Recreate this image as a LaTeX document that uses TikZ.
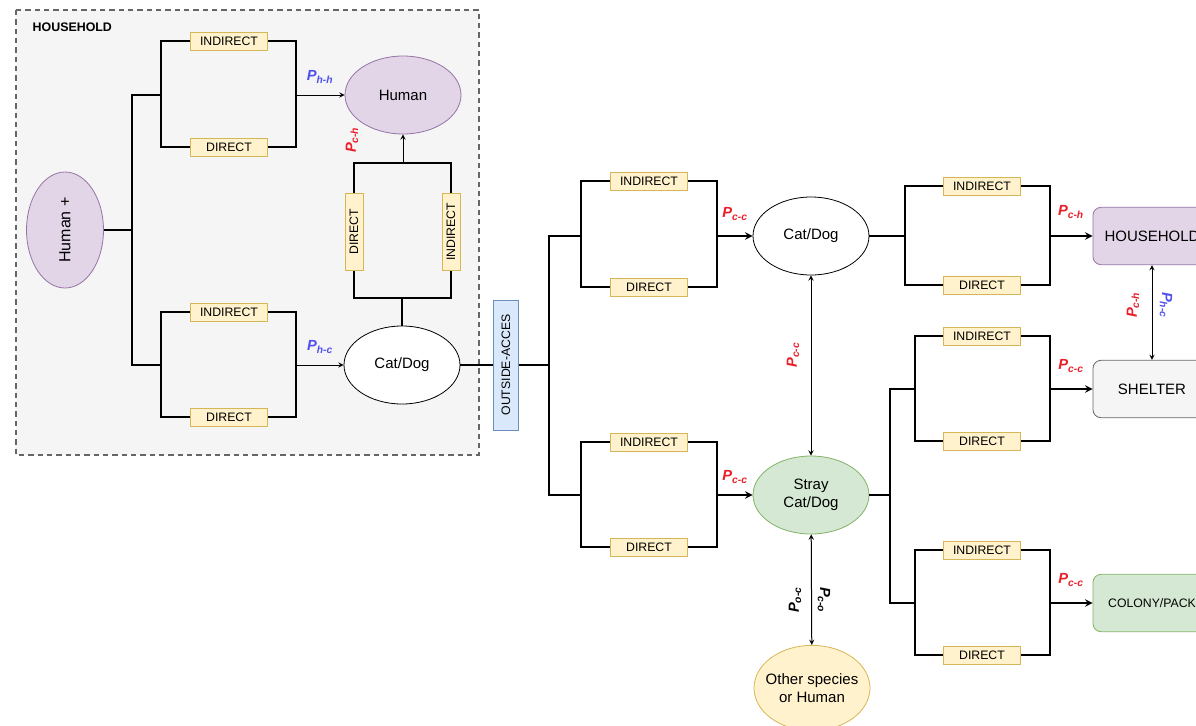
\documentclass[tikz,border=0pt]{standalone}
\usepackage{fontspec}
\setmainfont{Liberation Sans}
\usetikzlibrary{arrows,shapes.geometric}
\definecolor{box_fill}{RGB}{255,242,204}
\definecolor{box_line}{RGB}{214,182,86}
\definecolor{pur_fill}{RGB}{225,213,231}
\definecolor{pur_line}{RGB}{150,115,166}
\definecolor{grn_fill}{RGB}{213,232,212}
\definecolor{grn_line}{RGB}{130,179,102}
\definecolor{blu_fill}{RGB}{218,232,252}
\definecolor{blu_line}{RGB}{108,142,191}
\definecolor{gry_fill}{RGB}{245,245,245}
\definecolor{gry_line}{RGB}{102,102,102}
\definecolor{p_red}{RGB}{235,30,40}
\definecolor{p_blue}{RGB}{80,80,240}
\tikzstyle{yb}=[rectangle,fill=box_fill,draw=box_line,line width=0.6pt,
  minimum width=58pt,minimum height=13.5pt,inner sep=1pt,font=\fontsize{9.2}{10}\selectfont]
\tikzstyle{el}=[ellipse,draw=black,line width=0.6pt,minimum width=87pt,
  minimum height=58.5pt,inner sep=1pt,align=center,font=\fontsize{11.25}{13.5}\selectfont]
\tikzstyle{rb}=[rectangle,rounded corners=6pt,line width=0.6pt,minimum width=88.5pt,
  minimum height=43pt,font=\fontsize{11.25}{13}\selectfont]
\tikzstyle{wire}=[line width=1.5pt]
\tikzstyle{lead}=[line width=0.75pt,-stealth]
\tikzstyle{heavylead}=[line width=1.5pt,-stealth]
\tikzstyle{both}=[line width=0.75pt,stealth-stealth]
\tikzstyle{pk}=[inner sep=1pt,font=\bfseries\itshape\fontsize{11}{12}\selectfont]
\tikzstyle{pr}=[pk,text=p_red]
\tikzstyle{pb}=[pk,text=p_blue]
\tikzstyle{none}=[inner sep=0pt]
\newcommand{\pvar}[1]{P\textsubscript{#1}}

\begin{document}
\begin{tikzpicture}[x=0.75pt,y=-0.75pt]
            \useasboundingbox (0,0) rectangle (1196,725);
            \clip (0,0) rectangle (1196,725);
            \draw [dashed,dash pattern=on 4pt off 3pt,draw=gry_line,fill=gry_fill,line width=0.9pt] (16,10) rectangle (479,455);
            \node [anchor=west,font=\bfseries\fontsize{9.3}{10}\selectfont] (1) at (28,27) {HOUSEHOLD};
            \node [style=el,fill=pur_fill,draw=pur_line,rotate=90,minimum width=87pt,minimum height=57.75pt,font=\fontsize{12}{13}\selectfont] (2) at (65,230) {Human +};
            \node [style=el,fill=pur_fill,draw=pur_line] (3) at (403,95) {Human};
            \node [style=el,fill=white] (4) at (402,365) {Cat/Dog};
            \node [style=yb] (5) at (229,41) {INDIRECT};
            \node [style=yb] (6) at (229,147) {DIRECT};
            \node [style=yb] (7) at (229,312) {INDIRECT};
            \node [style=yb] (8) at (229,417) {DIRECT};
            \node [style=yb,rotate=90] (9) at (354,232) {DIRECT};
            \node [style=yb,rotate=90] (10) at (451,232) {INDIRECT};
            \node [style=yb,rotate=90,fill=blu_fill,draw=blu_line,minimum width=97.5pt,minimum height=18.75pt] (11) at (506,365) {OUTSIDE-ACCES};
            \node [style=el,fill=white] (12) at (811,236) {Cat/Dog};
            \node [style=el,fill=grn_fill,draw=grn_line] (13) at (811,495) {Stray\\Cat/Dog};
            \node [style=el,fill=box_fill,draw=box_line,minimum height=64pt] (14) at (812,688) {\makebox[0pt]{Other species}\\\makebox[0pt]{or Human}};
            \node [style=yb] (15) at (649,181) {INDIRECT};
            \node [style=yb] (16) at (649,287) {DIRECT};
            \node [style=yb] (17) at (649,442) {INDIRECT};
            \node [style=yb] (18) at (649,547) {DIRECT};
            \node [style=yb] (19) at (982,186) {INDIRECT};
            \node [style=yb] (20) at (982,285) {DIRECT};
            \node [style=yb] (21) at (982,336) {INDIRECT};
            \node [style=yb] (22) at (982,441) {DIRECT};
            \node [style=yb] (23) at (982,550) {INDIRECT};
            \node [style=yb] (24) at (982,655) {DIRECT};
            \node [style=rb,fill=pur_fill,draw=pur_line] (25) at (1152,236) {HOUSEHOLD};
            \node [style=rb,fill=gry_fill,draw=gry_line] (26) at (1152,389) {SHELTER};
            \node [style=rb,fill=grn_fill,draw=grn_line,font=\fontsize{9.2}{10}\selectfont] (27) at (1152,603) {COLONY/PACK};
            \node [style=none] (30) at (132,230) {};
            \node [style=none] (31) at (161,95) {};
            \node [style=none] (32) at (161,365) {};
            \node [style=none] (33) at (296,95) {};
            \node [style=none] (34) at (296,365) {};
            \node [style=none] (35) at (402,298) {};
            \node [style=none] (36) at (403,163) {};
            \node [style=none] (37) at (549,365) {};
            \node [style=none] (38) at (581,236) {};
            \node [style=none] (39) at (581,495) {};
            \node [style=none] (40) at (717,236) {};
            \node [style=none] (41) at (717,495) {};
            \node [style=none] (42) at (905,236) {};
            \node [style=none] (43) at (1050,236) {};
            \node [style=none] (44) at (890,495) {};
            \node [style=none] (45) at (915,389) {};
            \node [style=none] (46) at (915,603) {};
            \node [style=none] (47) at (1050,389) {};
            \node [style=none] (48) at (1050,603) {};
            \draw [style=wire] (2) -- (30.center);
            \draw [style=wire] (31.center) -| (30.center) |- (32.center);
            \draw [style=wire] (5.west) -| (31.center) |- (6.west);
            \draw [style=wire] (5.east) -| (33.center) |- (6.east);
            \draw [style=wire] (7.west) -| (32.center) |- (8.west);
            \draw [style=wire] (7.east) -| (34.center) |- (8.east);
            \draw [style=lead] (33.center) to (3);
            \draw [style=lead] (34.center) to (4);
            \draw [style=wire] (4) to (35.center);
            \draw [style=wire] (9.west) |- (35.center) -| (10.west);
            \draw [style=wire] (9.east) |- (36.center) -| (10.east);
            \draw [style=lead] (36.center) to (3);
            \draw [style=wire] (4) to (11);
            \draw [style=wire] (11) to (37.center);
            \draw [style=wire] (38.center) -| (37.center) |- (39.center);
            \draw [style=wire] (15.west) -| (38.center) |- (16.west);
            \draw [style=wire] (15.east) -| (40.center) |- (16.east);
            \draw [style=wire] (17.west) -| (39.center) |- (18.west);
            \draw [style=wire] (17.east) -| (41.center) |- (18.east);
            \draw [style=heavylead] (40.center) to (12);
            \draw [style=heavylead] (41.center) to (13);
            \draw [style=both] (12) to (13);
            \draw [style=both] (13) to (14);
            \draw [style=wire] (12) to (42.center);
            \draw [style=wire] (19.west) -| (42.center) |- (20.west);
            \draw [style=wire] (19.east) -| (43.center) |- (20.east);
            \draw [style=heavylead] (43.center) to (25);
            \draw [style=wire] (13) to (44.center);
            \draw [style=wire] (45.center) -| (44.center) |- (46.center);
            \draw [style=wire] (21.west) -| (45.center) |- (22.west);
            \draw [style=wire] (21.east) -| (47.center) |- (22.east);
            \draw [style=wire] (23.west) -| (46.center) |- (24.west);
            \draw [style=wire] (23.east) -| (48.center) |- (24.east);
            \draw [style=heavylead] (47.center) to (26);
            \draw [style=heavylead] (48.center) to (27);
            \draw [style=both] (25) to (26);
            \node [style=pb] (50) at (320,77) {\pvar{h-h}};
            \node [style=pb] (51) at (320,347) {\pvar{h-c}};
            \node [style=pr,rotate=90] (52) at (352,140) {\pvar{c-h}};
            \node [style=pr] (53) at (735,214) {\pvar{c-c}};
            \node [style=pr] (54) at (735,477) {\pvar{c-c}};
            \node [style=pr,rotate=90] (55) at (793,355) {\pvar{c-c}};
            \node [style=pr] (56) at (1071,212) {\pvar{c-h}};
            \node [style=pr] (57) at (1071,366) {\pvar{c-c}};
            \node [style=pr] (58) at (1071,580) {\pvar{c-c}};
            \node [style=pk,rotate=90] (59) at (795,600) {\pvar{o-c}};
            \node [style=pk,rotate=-90] (60) at (824,600) {\pvar{c-o}};
            \node [style=pr,rotate=90] (61) at (1133,305) {\pvar{c-h}};
            \node [style=pb,rotate=-90] (62) at (1166,305) {\pvar{h-c}};
    \end{tikzpicture}
\end{document}
